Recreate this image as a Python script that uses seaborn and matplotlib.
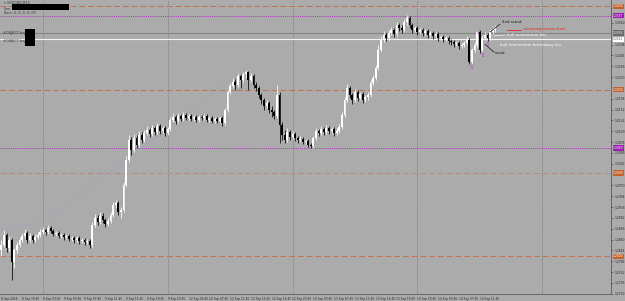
import matplotlib
matplotlib.use("Agg")
import matplotlib.pyplot as plt
import matplotlib.transforms as mtrans
import numpy as np
import seaborn as sns

# ---------------- data ----------------
first_open = 1.2815
close = [1.2827, 1.2851, 1.2820, 1.2839, 1.2786, 1.2815, 1.2827, 1.2839, 1.2849, 1.2856,
         1.2839, 1.2849, 1.2839, 1.2846, 1.2851, 1.2858, 1.2863, 1.2858, 1.2868, 1.2861,
         1.2853, 1.2856, 1.2849, 1.2851, 1.2846, 1.2849, 1.2841, 1.2844, 1.2839, 1.2844,
         1.2837, 1.2839, 1.2834, 1.2837, 1.2827, 1.2875, 1.2892, 1.2882, 1.2897, 1.2887,
         1.2877, 1.2885, 1.2899, 1.2923, 1.2928, 1.2906, 1.2911, 1.2971, 1.3031, 1.3079,
         1.3055, 1.3084, 1.3067, 1.3091, 1.3079, 1.3096, 1.3103, 1.3093, 1.3108, 1.3098,
         1.3113, 1.3101, 1.3108, 1.3096, 1.3105, 1.3127, 1.3134, 1.3125, 1.3137, 1.3129,
         1.3139, 1.3132, 1.3137, 1.3129, 1.3134, 1.3127, 1.3134, 1.3132, 1.3137, 1.3127,
         1.3132, 1.3125, 1.3129, 1.3125, 1.3132, 1.3120, 1.3151, 1.3194, 1.3209, 1.3218,
         1.3211, 1.3233, 1.3223, 1.3237, 1.3242, 1.3223, 1.3233, 1.3211, 1.3204, 1.3187,
         1.3175, 1.3161, 1.3168, 1.3151, 1.3146, 1.3137, 1.3187, 1.3115, 1.3091, 1.3079,
         1.3098, 1.3086, 1.3093, 1.3084, 1.3079, 1.3081, 1.3074, 1.3077, 1.3067, 1.3065,
         1.3084, 1.3101, 1.3096, 1.3105, 1.3098, 1.3108, 1.3101, 1.3105, 1.3096, 1.3101,
         1.3110, 1.3139, 1.3175, 1.3204, 1.3187, 1.3175, 1.3194, 1.3180, 1.3189, 1.3175,
         1.3182, 1.3187, 1.3216, 1.3228, 1.3252, 1.3295, 1.3319, 1.3331, 1.3324, 1.3336,
         1.3343, 1.3333, 1.3355, 1.3348, 1.3343, 1.3362, 1.3372, 1.3355, 1.3343, 1.3348,
         1.3338, 1.3343, 1.3336, 1.3341, 1.3331, 1.3336, 1.3329, 1.3333, 1.3324, 1.3326,
         1.3321, 1.3324, 1.3317, 1.3314, 1.3309, 1.3312, 1.3305, 1.3307, 1.3312, 1.3319,
         1.3266, 1.3295, 1.3307, 1.3338, 1.3295, 1.3324, 1.3331, 1.3324, 1.3338, 1.3343,
         1.3348]
high = [1.2839, 1.2863, 1.2856, 1.2849, 1.2844, 1.2820, 1.2834, 1.2846, 1.2856, 1.2865,
        1.2861, 1.2856, 1.2853, 1.2853, 1.2858, 1.2865, 1.2870, 1.2868, 1.2875, 1.2873,
        1.2865, 1.2861, 1.2861, 1.2856, 1.2856, 1.2853, 1.2853, 1.2849, 1.2849, 1.2849,
        1.2849, 1.2844, 1.2844, 1.2841, 1.2841, 1.2882, 1.2901, 1.2899, 1.2906, 1.2904,
        1.2892, 1.2892, 1.2906, 1.2930, 1.2935, 1.2933, 1.2918, 1.2978, 1.3041, 1.3091,
        1.3086, 1.3093, 1.3091, 1.3101, 1.3098, 1.3103, 1.3113, 1.3108, 1.3115, 1.3113,
        1.3120, 1.3117, 1.3113, 1.3113, 1.3110, 1.3134, 1.3144, 1.3139, 1.3144, 1.3141,
        1.3146, 1.3144, 1.3141, 1.3141, 1.3139, 1.3139, 1.3139, 1.3139, 1.3141, 1.3141,
        1.3137, 1.3137, 1.3134, 1.3134, 1.3137, 1.3137, 1.3156, 1.3199, 1.3216, 1.3228,
        1.3225, 1.3240, 1.3237, 1.3242, 1.3247, 1.3245, 1.3240, 1.3237, 1.3218, 1.3209,
        1.3192, 1.3180, 1.3175, 1.3173, 1.3161, 1.3151, 1.3211, 1.3194, 1.3122, 1.3103,
        1.3108, 1.3103, 1.3101, 1.3098, 1.3089, 1.3089, 1.3086, 1.3081, 1.3081, 1.3072,
        1.3089, 1.3108, 1.3105, 1.3113, 1.3110, 1.3115, 1.3113, 1.3110, 1.3110, 1.3108,
        1.3117, 1.3146, 1.3182, 1.3213, 1.3209, 1.3192, 1.3201, 1.3199, 1.3194, 1.3194,
        1.3187, 1.3194, 1.3223, 1.3235, 1.3259, 1.3307, 1.3329, 1.3341, 1.3336, 1.3343,
        1.3350, 1.3348, 1.3362, 1.3360, 1.3355, 1.3369, 1.3379, 1.3377, 1.3360, 1.3353,
        1.3353, 1.3348, 1.3348, 1.3345, 1.3345, 1.3341, 1.3341, 1.3338, 1.3338, 1.3331,
        1.3331, 1.3329, 1.3329, 1.3321, 1.3319, 1.3317, 1.3317, 1.3312, 1.3317, 1.3329,
        1.3324, 1.3300, 1.3314, 1.3345, 1.3343, 1.3331, 1.3338, 1.3336, 1.3345, 1.3350,
        1.3355]
low = [1.2801, 1.2822, 1.2810, 1.2813, 1.2743, 1.2772, 1.2808, 1.2822, 1.2834, 1.2844,
       1.2832, 1.2834, 1.2832, 1.2834, 1.2841, 1.2846, 1.2853, 1.2851, 1.2853, 1.2856,
       1.2849, 1.2849, 1.2844, 1.2844, 1.2839, 1.2841, 1.2837, 1.2837, 1.2832, 1.2834,
       1.2829, 1.2832, 1.2827, 1.2829, 1.2820, 1.2822, 1.2870, 1.2875, 1.2877, 1.2880,
       1.2870, 1.2873, 1.2880, 1.2894, 1.2916, 1.2899, 1.2892, 1.2906, 1.2966, 1.3026,
       1.3043, 1.3050, 1.3060, 1.3062, 1.3072, 1.3074, 1.3091, 1.3086, 1.3089, 1.3091,
       1.3093, 1.3093, 1.3096, 1.3089, 1.3091, 1.3101, 1.3122, 1.3117, 1.3120, 1.3125,
       1.3125, 1.3127, 1.3127, 1.3125, 1.3125, 1.3122, 1.3122, 1.3127, 1.3127, 1.3122,
       1.3122, 1.3120, 1.3120, 1.3120, 1.3120, 1.3113, 1.3115, 1.3146, 1.3189, 1.3204,
       1.3199, 1.3206, 1.3204, 1.3218, 1.3228, 1.3199, 1.3218, 1.3204, 1.3197, 1.3180,
       1.3165, 1.3151, 1.3156, 1.3144, 1.3134, 1.3129, 1.3132, 1.3072, 1.3079, 1.3072,
       1.3074, 1.3079, 1.3081, 1.3077, 1.3072, 1.3074, 1.3069, 1.3069, 1.3062, 1.3060,
       1.3060, 1.3079, 1.3089, 1.3091, 1.3091, 1.3093, 1.3093, 1.3096, 1.3089, 1.3091,
       1.3096, 1.3105, 1.3134, 1.3170, 1.3180, 1.3165, 1.3170, 1.3173, 1.3175, 1.3168,
       1.3170, 1.3175, 1.3182, 1.3211, 1.3223, 1.3247, 1.3290, 1.3314, 1.3317, 1.3319,
       1.3331, 1.3326, 1.3329, 1.3341, 1.3336, 1.3338, 1.3355, 1.3348, 1.3336, 1.3338,
       1.3331, 1.3333, 1.3329, 1.3331, 1.3324, 1.3326, 1.3321, 1.3324, 1.3317, 1.3319,
       1.3314, 1.3317, 1.3309, 1.3307, 1.3302, 1.3305, 1.3297, 1.3300, 1.3302, 1.3307,
       1.3261, 1.3261, 1.3290, 1.3302, 1.3288, 1.3290, 1.3319, 1.3317, 1.3319, 1.3333,
       1.3338]

time_tick_idx = [0, 8, 16, 24, 32, 40, 48, 56, 64, 72, 80, 88, 96, 104, 112, 120,
                 128, 136, 144, 152, 160, 168, 176, 184]
time_tick_labels = ["8 Sep 2016", "8 Sep 19:45", "8 Sep 23:45", "9 Sep 03:45",
                    "9 Sep 07:45", "9 Sep 11:45", "9 Sep 15:45", "9 Sep 19:45",
                    "9 Sep 23:45", "12 Sep 03:45", "12 Sep 07:45", "12 Sep 11:45",
                    "12 Sep 15:45", "12 Sep 19:45", "12 Sep 23:45", "13 Sep 03:45",
                    "13 Sep 07:45", "13 Sep 11:45", "13 Sep 15:45", "13 Sep 19:45",
                    "13 Sep 23:45", "14 Sep 03:45", "14 Sep 07:45", "14 Sep 11:45"]
day_grid_idx = [16, 64, 112, 160, 208]
price_ticks = [1.3386, 1.3360, 1.3334, 1.3308, 1.3282, 1.3256, 1.3230, 1.3204, 1.3178,
               1.3152, 1.3126, 1.3100, 1.3074, 1.3048, 1.3022, 1.2996, 1.2970, 1.2944,
               1.2918, 1.2892, 1.2866, 1.2840, 1.2814, 1.2788, 1.2762, 1.2736, 1.2710]

level_prices = [1.3400, 1.3377, 1.3336, 1.3321, 1.3200, 1.3060, 1.3000, 1.2800]
level_kinds = ["orange", "magenta", "gray", "white", "orange", "magenta", "orange2", "orange"]

trend_x = [2, 16, 92]
trend_y = [1.2868, 1.2880, 1.3242]

arrow_x = [181, 183, 185, 187]
arrow_y = [1.3254, 1.3338, 1.3281, 1.3307]

# ---------------- styling ----------------
BG = "#ABABAB"
sns.set_theme(style="dark")
plt.rcParams["font.family"] = ["DejaVu Sans"]

W, H = 625, 301
fig = plt.figure(figsize=(W / 100, H / 100), dpi=100, facecolor=BG)
ax = fig.add_axes([0, 7 / H, 611 / W, 294 / H])
ax.set_facecolor(BG)

n = len(close)
idx = np.arange(n)
opens = np.array([first_open] + close[:-1])
closes = np.array(close)
highs = np.array(high)
lows = np.array(low)
up = closes >= opens
cols = np.where(up, "#FFFFFF", "#000000")

ax.set_xlim(-0.5, 234.5)
ax.set_ylim(1.27094, 1.3415)

# vertical dotted grid lines
for gx in day_grid_idx:
    ax.axvline(gx, color="#6E6E6E", lw=0.6, ls=(0, (1, 1.5)), zorder=1)

# horizontal levels
style = {
    "orange": dict(color="#C4714A", lw=0.7, ls=(0, (6, 3))),
    "orange2": dict(color="#B58A78", lw=0.7, ls=(0, (6, 3))),
    "magenta": dict(color="#B02CC0", lw=0.7, ls=(0, (1, 1.2))),
    "gray": dict(color="#858585", lw=0.8, ls="-"),
    "white": dict(color="#F4F4F4", lw=0.8, ls="-"),
}
box_col = {"orange": "#C4602A", "orange2": "#C4602A", "magenta": "#9A1FB0",
           "gray": "#6A6A6A", "white": "#FFFFFF"}
for p, k in zip(level_prices, level_kinds):
    ax.axhline(p, zorder=1, **style[k])

# trend line
sns.lineplot(x=trend_x, y=trend_y, ax=ax, color="#8EA4CC", lw=0.6,
             linestyle=(0, (1, 1.2)), zorder=1, legend=False)

# candles
ax.vlines(idx, lows, highs, colors=cols, lw=0.55, zorder=3)
body_lo = np.minimum(opens, closes)
body_h = np.maximum(np.abs(closes - opens), 0.00004)
ax.bar(idx, body_h, bottom=body_lo, width=0.62, color=cols, linewidth=0, zorder=3)

# arrows
for x, y in zip(arrow_x, arrow_y):
    ax.text(x, y, "\u21e7", color="#B02CC0", fontsize=4, ha="center", va="center", zorder=4)

# annotations
FS = 2.8
ax.plot([191.8, 188.0], [1.3357, 1.3338], color="#111111", lw=0.5, zorder=4)
ax.text(192.6, 1.3362, "2nd scout", fontsize=FS, color="#111111", va="center", ha="left", zorder=4)
ax.plot([194.5, 199.9], [1.3343, 1.3343], color="#E02020", lw=0.6, zorder=4)
ax.text(200.7, 1.3345, "removing excess here", fontsize=FS, color="#E02020", va="center", ha="left", zorder=4)
ax.plot([189.5, 193.7], [1.3329, 1.3331], color="#F0F0F0", lw=0.5, zorder=4)
ax.text(194.5, 1.3331, "bull momentum bar", fontsize=FS, color="#FFFFFF", va="center", ha="left", zorder=4)
ax.text(191.8, 1.3307, "bull momentum breakaway bar", fontsize=FS, color="#FFFFFF", va="center", ha="left", zorder=4)
ax.plot([186.0, 189.5], [1.3309, 1.3290], color="#111111", lw=0.5, zorder=4)
ax.text(189.9, 1.3288, "scout", fontsize=FS, color="#111111", va="center", ha="left", zorder=4)

# axes frame
for s in ["left", "top"]:
    ax.spines[s].set_visible(False)
for s in ["right", "bottom"]:
    ax.spines[s].set_color("#5A5A5A")
    ax.spines[s].set_linewidth(0.6)
ax.grid(False)

# price scale: level boxes hide the regular labels they cover
shown = [v for v in price_ticks if min(abs(v - p) for p in level_prices) > 0.0011]
ax.yaxis.tick_right()
ax.set_yticks(shown)
ax.set_yticklabels([f"{v:.4f}" for v in shown])
ax.tick_params(axis="y", labelsize=2.2, length=1.5, width=0.4, pad=1.2,
               colors="#333333", labelcolor="#262626")
ax.set_xticks(time_tick_idx)
ax.set_xticklabels(time_tick_labels, ha="left")
ax.tick_params(axis="x", labelsize=2.05, length=1.5, width=0.4, pad=0.8,
               colors="#333333", labelcolor="#262626")

# level labels on the price scale
tr = mtrans.blended_transform_factory(ax.transAxes, ax.transData)
for p, k in zip(level_prices, level_kinds):
    fc = box_col[k]
    tc = "#555555" if k == "white" else "#FFFFFF"
    ax.text(1.0035, p, f"{p:.4f}", transform=tr, fontsize=2.2, color=tc, va="center",
            ha="left", clip_on=False, zorder=6,
            bbox=dict(boxstyle="square,pad=0.2", fc=fc, ec="none"))

# header and redaction boxes
HF = 2.4
fig.text(4 / W, 1 - 3.5 / H, "\u25be USDCAD,M15", fontsize=HF, color="#3A3A3A", va="center")
fig.text(4 / W, 1 - 8.5 / H, "Line", fontsize=HF, color="#3A3A3A", va="center")
fig.text(4 / W, 1 - 13.5 / H, "Bars: 0, 0, 0, 0, 00", fontsize=HF, color="#3A3A3A", va="center")
fig.text(3 / W, 1 - 33 / H, "#OBJECT buy", fontsize=HF, color="#3A3A3A", va="center")
fig.text(3 / W, 1 - 41 / H, "#OBJECT buy", fontsize=HF, color="#3A3A3A", va="center")
fig.patches.append(plt.Rectangle((12 / W, 1 - 9.5 / H), 57 / W, 5.5 / H,
                                 transform=fig.transFigure, fc="#000000", ec="none", zorder=10))
fig.patches.append(plt.Rectangle((25 / W, 1 - 46 / H), 10 / W, 17 / H,
                                 transform=fig.transFigure, fc="#000000", ec="none", zorder=10))

fig.savefig("out.png", dpi=100, facecolor=BG)
